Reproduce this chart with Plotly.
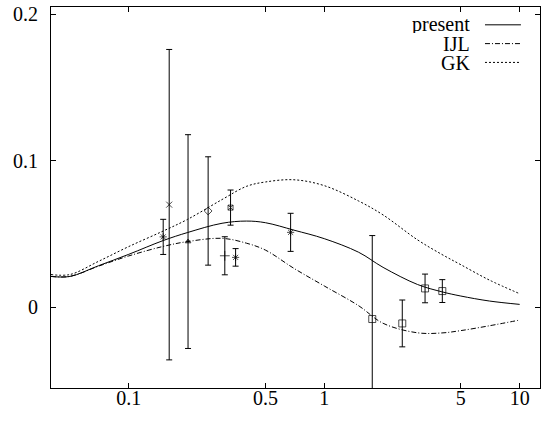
import plotly.graph_objects as go
import math

# Model curves sampled in x
curve_x = [0.04, 0.05, 0.07, 0.1, 0.15, 0.2, 0.3, 0.4, 0.5, 0.7, 1, 1.5, 2, 3, 4, 5, 7, 10]
present = [0.021, 0.021, 0.0283, 0.0361, 0.0455, 0.051, 0.0573, 0.0588, 0.0577, 0.0526,
           0.0468, 0.0375, 0.0272, 0.0155, 0.0105, 0.0076, 0.0042, 0.0019]
ijl = [0.021, 0.021, 0.028, 0.035, 0.0415, 0.0448, 0.047, 0.0437, 0.039, 0.0265,
       0.0145, 0.001, -0.011, -0.0175, -0.0176, -0.016, -0.0127, -0.0088]
gk = [0.0223, 0.0223, 0.0313, 0.0414, 0.052, 0.060, 0.0735, 0.0825, 0.0855, 0.087,
      0.083, 0.0725, 0.063, 0.046, 0.036, 0.029, 0.0185, 0.0092]

# Measurements with symmetric errors
data_x = [0.15, 0.161, 0.201, 0.2547, 0.310, 0.3317, 0.352, 0.673, 1.761, 2.508, 3.28, 4.02]
data_y = [0.048, 0.070, 0.0448, 0.0657, 0.0351, 0.068, 0.034, 0.0511, -0.0081, -0.0111, 0.0128, 0.011]
data_err = [0.012, 0.106, 0.073, 0.037, 0.013, 0.012, 0.006, 0.013, 0.057, 0.016, 0.0098, 0.0078]
data_sym = ["asterisk-open", "x-thin-open", "triangle-up", "diamond-open", "cross-thin-open",
            "square-x-open", "asterisk-open", "asterisk-open", "square-open", "square-open",
            "square-open", "square-open"]
data_size = [6, 6, 5, 6, 7, 5, 6, 6, 7, 7, 7, 7]

x_ticks = [0.1, 0.5, 1, 5, 10]
x_ticklabels = ["0.1", "0.5", "1", "5", "10"]
y_ticks = [0, 0.1, 0.2]
y_ticklabels = ["0", "0.1", "0.2"]

legend_names = ["present", "IJL", "GK"]
dashes = ["solid", "5px,2px,1px,2px", "2px,2px"]

FONT = "Times New Roman, Liberation Serif, DejaVu Serif, serif"

fig = go.Figure()
for ys, name, dash in zip([present, ijl, gk], legend_names, dashes):
    fig.add_trace(go.Scatter(x=curve_x, y=ys, mode="lines", name=name,
                             line=dict(color="black", width=1, dash=dash, shape="spline",
                                       smoothing=1.0),
                             showlegend=False))

fig.add_trace(go.Scatter(
    x=data_x, y=data_y, mode="markers", showlegend=False,
    marker=dict(symbol=data_sym, size=data_size, color="black",
                line=dict(color="black", width=1)),
    error_y=dict(type="data", array=data_err, symmetric=True,
                 color="black", thickness=1, width=3),
))

# Legend drawn on the right: label, then line sample
row_py = [21, 40, 59]
for name, dash, py in zip(legend_names, dashes, row_py):
    yp = (388 - py) / 385
    fig.add_annotation(x=0.861, y=yp, xref="paper", yref="paper", text=name,
                       showarrow=False, xanchor="right", yanchor="middle",
                       height=17, valign="middle",
                       font=dict(family=FONT, size=20, color="black"))
    fig.add_shape(type="line", xref="paper", yref="paper",
                  x0=0.8875, x1=0.961, y0=yp, y1=yp,
                  line=dict(color="black", width=1, dash=dash))

fig.update_xaxes(type="log", range=[math.log10(0.04), 1.104],
                 tickvals=x_ticks, ticktext=x_ticklabels,
                 ticks="inside", ticklen=5, tickcolor="black",
                 showline=True, linecolor="black", linewidth=1, mirror="ticks",
                 showgrid=False, zeroline=False, ticklabelstandoff=-8,
                 tickfont=dict(family=FONT, size=20, color="black"))
fig.update_yaxes(range=[-0.0552, 0.205],
                 tickvals=y_ticks, ticktext=y_ticklabels,
                 ticks="inside", ticklen=5, tickcolor="black",
                 showline=True, linecolor="black", linewidth=1, mirror="ticks",
                 showgrid=False, zeroline=False, ticklabelstandoff=8,
                 ticklabeloverflow="allow",
                 tickfont=dict(family=FONT, size=20, color="black"))

fig.update_layout(width=553, height=428,
                  margin=dict(l=51, r=13, t=3, b=40),
                  plot_bgcolor="white", paper_bgcolor="white",
                  font=dict(family=FONT, size=20, color="black"))

fig.write_html("out.html")
